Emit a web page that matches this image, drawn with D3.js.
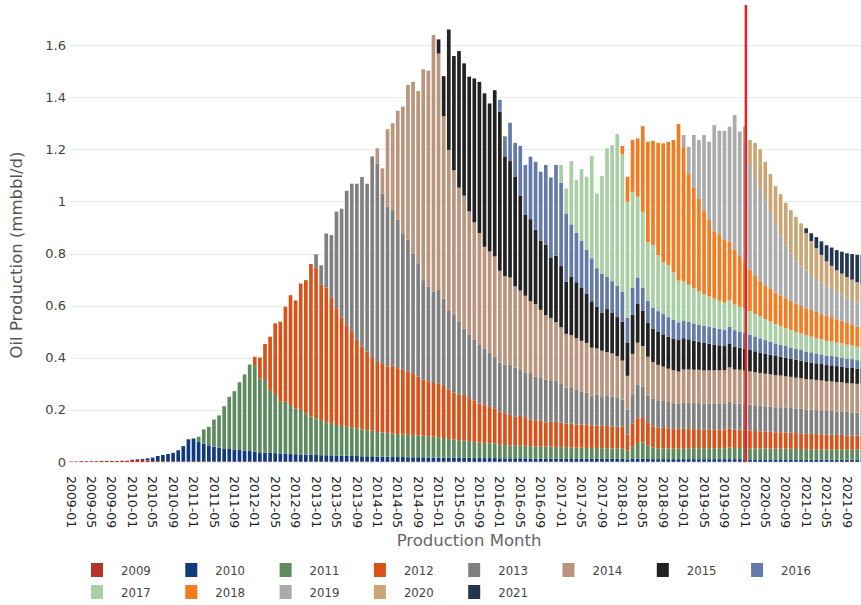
<!DOCTYPE html>
<html><head><meta charset="utf-8">
<script src="https://cdn.jsdelivr.net/npm/d3@7"></script>
<style>body{margin:0;background:#fff}svg{display:block}</style>
</head><body><svg id="chart" width="861" height="605"></svg>
<script>
// ---------------- data ----------------
const years = ["2009","2010","2011","2012","2013","2014","2015","2016","2017","2018","2019","2020","2021"];
const colors = ["#b83226","#0f3b7e","#5d8b5f","#d95319","#808080","#b8957c","#222222","#647ba8","#a9cfa4","#f47c20","#ababab","#c8a676","#243552"];

// each cohort's production (mmbbl/d) by month, starting January of its own year
const v2009 = [0.002,0.002,0.003,0.003,0.003,0.003,0.004,0.004,0.004,0.004,0.005,0.005,
0.008,0.009,0.008,0.006,0.004,0.003,0.003,0.003,0.002,0.002,0.002,0.002,
0.002,0.002,0.002,0.002,0.002,0.002,0.002,0.002,0.002,0.002,0.002,0.002,
0.002,0.002,0.002,0.002,0.002,0.002,0.002,0.002,0.002,0.002,0.002,0.002,
0.002,0.002,0.002,0.002,0.002,0.002,0.002,0.002,0.002,0.002,0.002,0.002,
0.001,0.001,0.001,0.001,0.001,0.001,0.001,0.001,0.001,0.001,0.001,0.001,
0.001,0.001,0.001,0.001,0.001,0.001,0.001,0.001,0.001,0.001,0.001,0.001,
0.001,0.001,0.001,0.001,0.001,0.001,0.001,0.001,0.001,0.001,0.001,0.001,
0.001,0.001,0.001,0.001,0.001,0.001,0.001,0.001,0.001,0.001,0.001,0.001,
0.001,0.001,0.001,0.001,0.001,0.001,0.001,0.001,0.001,0.001,0.001,0.001,
0.001,0.001,0.001,0.001,0.001,0.001,0.001,0.001,0.001,0.001,0.001,0.001,
0.001,0.001,0.001,0.001,0.001,0.001,0.001,0.001,0.001,0.001,0.001,0.001,
0.001,0.001,0.001,0.001,0.001,0.001,0.001,0.001,0.001,0.001,0.001,0.001];
const v2010 = [0.001,0.002,0.004,0.008,0.013,0.020,0.024,0.028,0.033,0.043,0.059,0.085,
0.087,0.075,0.068,0.062,0.057,0.053,0.050,0.048,0.046,0.044,0.042,0.040,
0.037,0.035,0.034,0.033,0.032,0.031,0.030,0.029,0.028,0.027,0.026,0.025,
0.025,0.024,0.024,0.023,0.023,0.022,0.022,0.021,0.021,0.020,0.020,0.020,
0.019,0.019,0.019,0.018,0.018,0.018,0.017,0.017,0.017,0.017,0.016,0.016,
0.016,0.016,0.015,0.015,0.015,0.015,0.015,0.014,0.014,0.014,0.014,0.014,
0.013,0.013,0.013,0.013,0.013,0.013,0.012,0.012,0.012,0.012,0.012,0.012,
0.012,0.012,0.011,0.011,0.011,0.011,0.011,0.011,0.011,0.011,0.011,0.011,
0.011,0.009,0.011,0.012,0.012,0.011,0.010,0.010,0.010,0.010,0.010,0.010,
0.010,0.010,0.010,0.010,0.010,0.010,0.010,0.010,0.010,0.010,0.010,0.010,
0.009,0.009,0.009,0.009,0.009,0.009,0.009,0.009,0.009,0.009,0.009,0.009,
0.008,0.008,0.008,0.008,0.008,0.008,0.008,0.008,0.008,0.008,0.008,0.008];
const v2011 = [0.002,0.020,0.055,0.071,0.104,0.124,0.162,0.200,0.224,0.260,0.292,0.332,
0.333,0.284,0.279,0.241,0.227,0.198,0.199,0.188,0.176,0.171,0.159,0.147,
0.141,0.135,0.125,0.125,0.117,0.115,0.112,0.109,0.105,0.103,0.100,0.098,
0.095,0.093,0.092,0.090,0.088,0.087,0.086,0.085,0.084,0.083,0.081,0.080,
0.078,0.075,0.072,0.070,0.068,0.066,0.064,0.062,0.060,0.058,0.057,0.056,
0.052,0.051,0.050,0.050,0.049,0.048,0.048,0.047,0.047,0.046,0.046,0.045,
0.045,0.044,0.044,0.043,0.043,0.042,0.042,0.042,0.041,0.041,0.040,0.040,
0.041,0.034,0.048,0.060,0.062,0.050,0.044,0.042,0.041,0.041,0.040,0.040,
0.042,0.042,0.042,0.042,0.042,0.042,0.042,0.042,0.042,0.045,0.043,0.043,
0.043,0.043,0.042,0.042,0.042,0.042,0.041,0.041,0.041,0.041,0.040,0.040,
0.040,0.040,0.040,0.039,0.039,0.039,0.039,0.039,0.038,0.038,0.038,0.038];
const v2012 = [0.032,0.080,0.138,0.205,0.271,0.307,0.365,0.421,0.414,0.485,0.511,0.586,
0.577,0.519,0.519,0.480,0.448,0.416,0.389,0.367,0.341,0.319,0.302,0.279,
0.269,0.266,0.254,0.261,0.253,0.248,0.244,0.238,0.226,0.215,0.212,0.206,
0.205,0.200,0.190,0.180,0.174,0.175,0.165,0.160,0.150,0.145,0.140,0.135,
0.128,0.122,0.117,0.110,0.114,0.110,0.102,0.098,0.100,0.093,0.095,0.096,
0.094,0.090,0.091,0.089,0.088,0.089,0.087,0.086,0.086,0.085,0.084,0.083,
0.083,0.062,0.088,0.095,0.097,0.088,0.082,0.080,0.079,0.077,0.076,0.075,
0.074,0.074,0.073,0.073,0.072,0.072,0.071,0.071,0.071,0.073,0.071,0.070,
0.069,0.068,0.067,0.066,0.065,0.064,0.063,0.063,0.062,0.061,0.061,0.060,
0.059,0.059,0.058,0.058,0.057,0.057,0.056,0.056,0.055,0.055,0.054,0.054];
const v2013 = [0.052,0.075,0.207,0.241,0.371,0.417,0.516,0.569,0.599,0.650,0.644,0.774,
0.761,0.651,0.615,0.597,0.570,0.524,0.505,0.460,0.435,0.382,0.364,0.350,
0.360,0.335,0.305,0.298,0.280,0.255,0.245,0.232,0.224,0.216,0.206,0.198,
0.188,0.186,0.192,0.188,0.176,0.170,0.178,0.170,0.162,0.164,0.157,0.158,
0.150,0.138,0.140,0.135,0.128,0.124,0.112,0.118,0.110,0.116,0.116,0.113,
0.103,0.095,0.112,0.130,0.118,0.106,0.105,0.104,0.103,0.101,0.099,0.097,
0.100,0.100,0.100,0.100,0.099,0.099,0.099,0.099,0.099,0.102,0.100,0.100,
0.100,0.099,0.099,0.098,0.097,0.097,0.096,0.096,0.095,0.095,0.094,0.094,
0.093,0.093,0.092,0.092,0.091,0.091,0.090,0.090,0.090,0.089,0.089,0.088];
const v2014 = [0.059,0.097,0.296,0.333,0.418,0.486,0.594,0.658,0.661,0.809,0.828,0.986,
0.908,0.700,0.615,0.556,0.515,0.510,0.472,0.451,0.430,0.392,0.390,0.385,
0.352,0.340,0.335,0.312,0.305,0.296,0.276,0.278,0.262,0.248,0.242,0.225,
0.215,0.207,0.200,0.196,0.194,0.190,0.186,0.178,0.178,0.168,0.165,0.158,
0.150,0.130,0.155,0.160,0.155,0.148,0.142,0.136,0.132,0.128,0.126,0.124,
0.128,0.128,0.128,0.128,0.128,0.128,0.129,0.129,0.129,0.132,0.130,0.130,
0.129,0.128,0.127,0.126,0.125,0.124,0.123,0.122,0.121,0.120,0.119,0.118,
0.117,0.116,0.116,0.115,0.114,0.113,0.113,0.112,0.111,0.111,0.110,0.110];
const v2015 = [0.054,0.154,0.462,0.438,0.524,0.508,0.517,0.552,0.580,0.589,0.568,0.638,
0.610,0.460,0.447,0.420,0.365,0.310,0.315,0.285,0.265,0.270,0.230,0.255,
0.235,0.200,0.225,0.215,0.205,0.190,0.178,0.160,0.145,0.165,0.155,0.150,
0.150,0.128,0.150,0.150,0.135,0.130,0.127,0.126,0.124,0.123,0.122,0.121,
0.120,0.116,0.112,0.108,0.105,0.102,0.099,0.096,0.093,0.092,0.088,0.085,
0.084,0.082,0.080,0.078,0.077,0.075,0.074,0.072,0.071,0.070,0.068,0.067,
0.066,0.065,0.064,0.063,0.062,0.062,0.061,0.060,0.060,0.059,0.058,0.058];
const v2016 = [0.046,0.077,0.147,0.131,0.190,0.192,0.240,0.261,0.265,0.306,0.309,0.348,
0.320,0.262,0.200,0.190,0.180,0.168,0.165,0.148,0.150,0.125,0.122,0.120,
0.115,0.095,0.105,0.100,0.090,0.085,0.082,0.080,0.078,0.075,0.072,0.068,
0.068,0.067,0.066,0.065,0.065,0.064,0.064,0.063,0.063,0.064,0.063,0.062,
0.061,0.059,0.057,0.055,0.052,0.050,0.048,0.046,0.045,0.043,0.042,0.041,
0.040,0.039,0.038,0.037,0.036,0.036,0.035,0.035,0.034,0.034,0.033,0.033];
const v2017 = [0.068,0.096,0.243,0.202,0.274,0.280,0.392,0.287,0.375,0.492,0.522,0.583,
0.526,0.445,0.367,0.310,0.290,0.225,0.240,0.215,0.198,0.200,0.182,0.160,
0.150,0.142,0.135,0.128,0.122,0.117,0.112,0.108,0.104,0.102,0.098,0.095,
0.093,0.090,0.087,0.084,0.080,0.077,0.074,0.071,0.069,0.067,0.065,0.063,
0.062,0.060,0.059,0.058,0.057,0.056,0.055,0.054,0.053,0.052,0.051,0.050];
const v2018 = [0.033,0.096,0.199,0.224,0.329,0.385,0.400,0.431,0.457,0.473,0.508,0.601,
0.515,0.425,0.385,0.355,0.322,0.296,0.258,0.255,0.240,0.225,0.210,0.195,
0.178,0.160,0.146,0.137,0.130,0.125,0.121,0.118,0.115,0.112,0.109,0.106,
0.104,0.102,0.100,0.098,0.096,0.093,0.090,0.087,0.084,0.081,0.078,0.075];
const v2019 = [0.047,0.105,0.203,0.226,0.289,0.298,0.408,0.397,0.419,0.441,0.518,0.477,
0.460,0.400,0.375,0.354,0.327,0.296,0.260,0.231,0.201,0.181,0.162,0.151,
0.145,0.135,0.127,0.120,0.113,0.108,0.104,0.100,0.097,0.094,0.092,0.090];
const v2020 = [0.060,0.097,0.135,0.150,0.147,0.145,0.149,0.158,0.165,0.167,0.171,0.166,
0.144,0.130,0.118,0.106,0.096,0.089,0.084,0.081,0.079,0.078,0.078,0.077];
const v2021 = [0.018,0.030,0.042,0.052,0.062,0.070,0.077,0.084,0.091,0.098,0.105,0.112];

const yTicks = [0,0.2,0.4,0.6,0.8,1,1.2,1.4,1.6];
const yTickLabels = ["0","0.2","0.4","0.6","0.8","1","1.2","1.4","1.6"];
const markerMonth = "2020-01";
const yTitle = "Oil Production (mmbbl/d)";
const xTitle = "Production Month";

// ---------------- build ----------------
const months = [];
for (let yr = 2009; yr <= 2021; yr++) for (let m = 1; m <= 12; m++) months.push(yr + "-" + String(m).padStart(2, "0"));
const seriesValues = [v2009,v2010,v2011,v2012,v2013,v2014,v2015,v2016,v2017,v2018,v2019,v2020,v2021];
const rows = months.map((mo, i) => {
  const r = {month: mo};
  years.forEach((yr, k) => {
    const off = (+yr - 2009) * 12;
    const v = seriesValues[k][i - off];
    r[yr] = (i >= off && v !== undefined) ? v : 0;
  });
  return r;
});
const stacked = d3.stack().keys(years)(rows);

const svg = d3.select("#chart");
svg.append("rect").attr("width", 861).attr("height", 605).attr("fill", "#fff");

const x = d3.scaleBand().domain(months).range([68.45, 864.85]).paddingInner(0.28).paddingOuter(0.14);
const y = d3.scaleLinear().domain([0, 1.754]).range([462, 5]);

// grid
svg.append("g").selectAll("line").data(yTicks).join("line")
  .attr("x1", 70).attr("x2", 861)
  .attr("y1", d => Math.round(y(d)) + 0.5).attr("y2", d => Math.round(y(d)) + 0.5)
  .attr("stroke", "#ebebeb").attr("stroke-width", 1);

// y tick labels
svg.append("g").selectAll("text").data(yTicks).join("text")
  .attr("x", 66).attr("y", d => y(d)).attr("dy", "0.35em")
  .attr("text-anchor", "end")
  .attr("font-family", "DejaVu Sans, sans-serif").attr("font-size", 13).attr("fill", "#444")
  .text((d, i) => yTickLabels[i]);

// bars
const layers = svg.append("g").selectAll("g").data(stacked).join("g")
  .attr("fill", (d, i) => colors[i]);
layers.selectAll("rect").data(d => d).join("rect")
  .attr("x", d => x(d.data.month))
  .attr("width", x.bandwidth())
  .attr("y", d => y(d[1]))
  .attr("height", d => Math.max(0, y(d[0]) - y(d[1])));

// marker line
const mx = x(markerMonth) + x.bandwidth() / 2 + 1;
svg.append("line").attr("x1", mx).attr("x2", mx).attr("y1", 5).attr("y2", 462)
  .attr("stroke", "#e3262b").attr("stroke-width", 2.6);

// x tick labels
const tickMonths = months.filter((d, i) => i % 4 === 0);
svg.append("g").selectAll("text").data(tickMonths).join("text")
  .attr("transform", d => `translate(${x(d) + x.bandwidth() / 2},476) rotate(90)`)
  .attr("dy", "0.35em")
  .attr("text-anchor", "start")
  .attr("font-family", "DejaVu Sans, sans-serif").attr("font-size", 12.5).attr("fill", "#222")
  .text(d => d);

// axis titles
svg.append("text")
  .attr("transform", "translate(22,255) rotate(-90)")
  .attr("text-anchor", "middle")
  .attr("font-family", "DejaVu Sans, sans-serif").attr("font-size", 16.5).attr("fill", "#555")
  .text(yTitle);
svg.append("text")
  .attr("x", 469).attr("y", 546)
  .attr("text-anchor", "middle")
  .attr("font-family", "DejaVu Sans, sans-serif").attr("font-size", 16.5).attr("fill", "#666")
  .text(xTitle);

// legend
const legend = svg.append("g").selectAll("g").data(years).join("g")
  .attr("transform", (d, i) => {
    const col = i % 8, row = Math.floor(i / 8);
    return `translate(${91 + col * 94.3},${570 + row * 22})`;
  });
legend.append("rect").attr("x", 0).attr("y", -7).attr("width", 12).attr("height", 14)
  .attr("fill", (d, i) => colors[i]);
legend.append("text").attr("x", 30).attr("y", 0).attr("dy", "0.35em")
  .attr("font-family", "DejaVu Sans Condensed, DejaVu Sans, sans-serif").attr("font-size", 13).attr("fill", "#444")
  .text(d => d);
</script>
</body></html>
